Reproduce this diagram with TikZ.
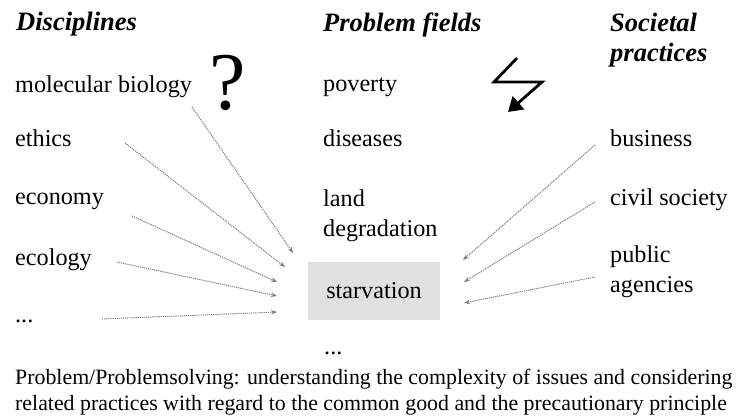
\documentclass[tikz,border=0pt]{standalone}
\usepackage{fontspec}
\setmainfont{Liberation Serif}
\usetikzlibrary{arrows.meta}

\definecolor{linkGray}{RGB}{125,125,125}
\definecolor{boxGray}{RGB}{224,224,224}

\begin{document}
\begin{tikzpicture}[x=1pt,y=-1pt,
  lbl/.style={anchor=base west,inner sep=0pt,font=\fontsize{24.2}{30}\selectfont},
  head/.style={lbl,font=\fontsize{26.5}{30}\selectfont\bfseries\itshape},
  captxt/.style={lbl,font=\fontsize{21.85}{25}\selectfont},
  link/.style={linkGray,line width=1pt,dash pattern=on 1.2pt off 0.9pt,
    -{Stealth[length=6pt,width=4.5pt]}}]
  \useasboundingbox (0,0) rectangle (739,419);
  % Column headings
  \node[head] (disc) at (16,31) {Disciplines};
  \node[head] (prob) at (323,32) {Problem fields};
  \node[head,align=left] (soc) at (610,62) {Societal\\practices};
  % Disciplines
  \node[lbl] (molbio) at (15,93) {molecular biology};
  \node[lbl] (ethics) at (15,147) {ethics};
  \node[lbl] (econ) at (15,205) {economy};
  \node[lbl] (ecol) at (15,266) {ecology};
  \node[lbl] (discetc) at (15,323) {...};
  % Problem fields
  \node[lbl] (pov) at (323,92) {poverty};
  \node[lbl] (dis) at (323,147) {diseases};
  \node[lbl,align=left] (land) at (323,237) {land\\degradation};
  \node[fill=boxGray,minimum width=132,minimum height=58,inner sep=0pt,
    font=\fontsize{24.2}{30}\selectfont] (starv) at (374,291) {starvation};
  \node[lbl] (probetc) at (324,355) {...};
  % Societal practices
  \node[lbl] (bus) at (610,147) {business};
  \node[lbl] (civ) at (610,206) {civil society};
  \node[lbl,align=left] (pub) at (610,293) {public\\agencies};
  % Question mark and flash
  \node[font=\fontsize{82}{82}\selectfont,inner sep=0pt] (qmark) at (228,83) {?};
  \draw[line width=2.8pt,line join=miter,-{Triangle[length=14pt,width=17pt]}]
    (517,58) -- (494,82) -- (542,82) -- (508,112);
  % Free ends of the arrows
  \coordinate (mbA) at (192,107);  \coordinate (mbB) at (293,253);
  \coordinate (ethA) at (125,143); \coordinate (ethB) at (285,267);
  \coordinate (ecoA) at (132,216); \coordinate (ecoB) at (277,282);
  \coordinate (eclA) at (117,262); \coordinate (eclB) at (277,296);
  \coordinate (etcA) at (102,319); \coordinate (etcB) at (277,312);
  \coordinate (busA) at (595,145); \coordinate (busB) at (463,260);
  \coordinate (civA) at (595,202); \coordinate (civB) at (464,282);
  \coordinate (pubA) at (595,277); \coordinate (pubB) at (464,303);
  \foreach \s in {mb,eth,eco,ecl,etc,bus,civ,pub}
    \draw[link] (\s A) -- (\s B);
  % Caption
  \node[captxt] (cap1) at (15,385)
    {Problem/Problemsolving: understanding the complexity of issues and considering};
  \node[captxt] (cap2) at (15,410)
    {related practices with regard to the common good and the precautionary principle};
\end{tikzpicture}
\end{document}
